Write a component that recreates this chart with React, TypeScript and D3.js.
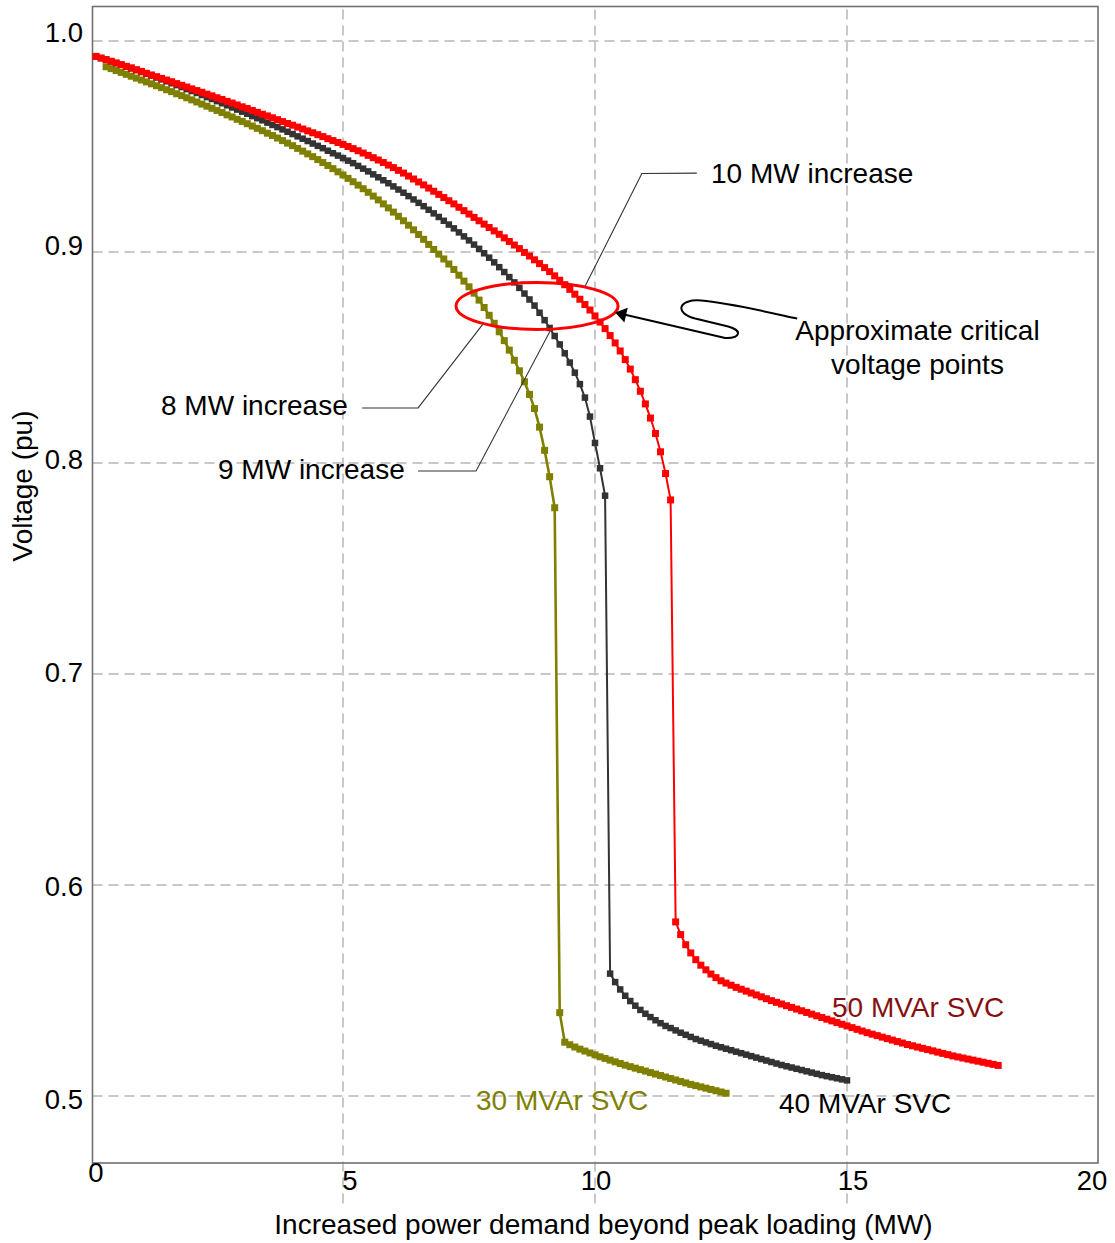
import React from "react";
import * as d3 from "d3";

// Load increase samples are taken every 0.1 MW (beyond peak loading)
const LOAD_STEP = 0.1;

const X_TICKS = [0, 5, 10, 15, 20];
const Y_TICKS = [1.0, 0.9, 0.8, 0.7, 0.6, 0.5];

const SERIES_NAMES = ["30 MVAr SVC", "40 MVAr SVC", "50 MVAr SVC"];

// 30 MVAr SVC, first sample at 0.3 MW
const SVC30_START = 0.3;
const SVC30_V = [
  0.9878, 0.9869, 0.9860, 0.9851, 0.9842, 0.9833, 0.9824, 0.9815,
  0.9806, 0.9797, 0.9788, 0.9779, 0.9769, 0.9760, 0.9750, 0.9741, 0.9731, 0.9721,
  0.9711, 0.9701, 0.9691, 0.9681, 0.9671, 0.9661, 0.9650, 0.9640, 0.9629, 0.9619,
  0.9608, 0.9597, 0.9586, 0.9575, 0.9563, 0.9552, 0.9540, 0.9528, 0.9516, 0.9504,
  0.9491, 0.9478, 0.9465, 0.9452, 0.9438, 0.9424, 0.9410, 0.9395, 0.9380, 0.9365,
  0.9349, 0.9333, 0.9317, 0.9300, 0.9283, 0.9265, 0.9247, 0.9228, 0.9209, 0.9189,
  0.9169, 0.9148, 0.9127, 0.9105, 0.9083, 0.9060, 0.9036, 0.9012, 0.8990, 0.8967,
  0.8943, 0.8917, 0.8890, 0.8862, 0.8835, 0.8805, 0.8772, 0.8737, 0.8700, 0.8662,
  0.8622, 0.8580, 0.8535, 0.8487, 0.8437, 0.8385, 0.8325, 0.8258, 0.8170, 0.8060,
  0.7935, 0.7788, 0.5395, 0.5255, 0.5243, 0.5232, 0.5222, 0.5213, 0.5204, 0.5195,
  0.5186, 0.5178, 0.5170, 0.5162, 0.5154, 0.5146, 0.5139, 0.5132, 0.5125, 0.5118,
  0.5111, 0.5104, 0.5097, 0.5090, 0.5083, 0.5076, 0.5069, 0.5062, 0.5055, 0.5049,
  0.5043, 0.5037, 0.5031, 0.5025, 0.5019, 0.5013,
];

// 40 MVAr SVC, first sample at 0.1 MW
const SVC40_START = 0.1;
const SVC40_V = [
  0.9927, 0.9919, 0.9911, 0.9903, 0.9895, 0.9887, 0.9878, 0.9870, 0.9862, 0.9853,
  0.9844, 0.9836, 0.9827, 0.9818, 0.9809, 0.9800, 0.9791, 0.9782, 0.9772, 0.9763,
  0.9754, 0.9744, 0.9734, 0.9725, 0.9715, 0.9705, 0.9695, 0.9685, 0.9675, 0.9665,
  0.9655, 0.9644, 0.9634, 0.9624, 0.9613, 0.9602, 0.9592, 0.9581, 0.9570, 0.9559,
  0.9548, 0.9537, 0.9526, 0.9514, 0.9503, 0.9492, 0.9480, 0.9468, 0.9457, 0.9445,
  0.9433, 0.9421, 0.9408, 0.9395, 0.9382, 0.9368, 0.9354, 0.9340, 0.9326, 0.9311,
  0.9296, 0.9281, 0.9265, 0.9249, 0.9233, 0.9217, 0.9200, 0.9183, 0.9166, 0.9148,
  0.9130, 0.9112, 0.9093, 0.9074, 0.9055, 0.9035, 0.9015, 0.8994, 0.8973, 0.8951,
  0.8928, 0.8905, 0.8881, 0.8856, 0.8830, 0.8803, 0.8775, 0.8746, 0.8712, 0.8677,
  0.8640, 0.8602, 0.8562, 0.8520, 0.8476, 0.8428, 0.8374, 0.8310, 0.8220, 0.8095,
  0.7975, 0.7845, 0.5580, 0.5540, 0.5505, 0.5475, 0.5450, 0.5428, 0.5408, 0.5390,
  0.5374, 0.5359, 0.5345, 0.5332, 0.5322, 0.5311, 0.5300, 0.5290, 0.5280, 0.5270,
  0.5262, 0.5254, 0.5246, 0.5238, 0.5231, 0.5224, 0.5217, 0.5210, 0.5203, 0.5196,
  0.5189, 0.5182, 0.5175, 0.5168, 0.5161, 0.5154, 0.5147, 0.5141, 0.5135, 0.5129,
  0.5123, 0.5117, 0.5111, 0.5105, 0.5099, 0.5094, 0.5089, 0.5084, 0.5079, 0.5074,
];

// 50 MVAr SVC, first sample at 0.1 MW
const SVC50_START = 0.1;
const SVC50_V = [
  0.9927, 0.9919, 0.9912, 0.9904, 0.9896, 0.9888, 0.9880, 0.9873, 0.9864, 0.9856,
  0.9847, 0.9839, 0.9831, 0.9823, 0.9815, 0.9807, 0.9798, 0.9790, 0.9782, 0.9773,
  0.9765, 0.9757, 0.9748, 0.9740, 0.9731, 0.9723, 0.9714, 0.9706, 0.9697, 0.9688,
  0.9680, 0.9671, 0.9662, 0.9653, 0.9645, 0.9636, 0.9627, 0.9618, 0.9609, 0.9601,
  0.9592, 0.9583, 0.9574, 0.9565, 0.9556, 0.9547, 0.9537, 0.9528, 0.9519, 0.9510,
  0.9500, 0.9490, 0.9480, 0.9469, 0.9458, 0.9447, 0.9436, 0.9424, 0.9412, 0.9400,
  0.9387, 0.9374, 0.9360, 0.9346, 0.9332, 0.9318, 0.9303, 0.9288, 0.9273, 0.9258,
  0.9243, 0.9228, 0.9212, 0.9196, 0.9180, 0.9164, 0.9148, 0.9132, 0.9116, 0.9100,
  0.9084, 0.9067, 0.9050, 0.9033, 0.9016, 0.8998, 0.8981, 0.8963, 0.8945, 0.8926,
  0.8907, 0.8887, 0.8866, 0.8845, 0.8823, 0.8800, 0.8776, 0.8751, 0.8725, 0.8697,
  0.8668, 0.8637, 0.8604, 0.8569, 0.8531, 0.8490, 0.8445, 0.8395, 0.8340, 0.8280,
  0.8213, 0.8140, 0.8053, 0.7950, 0.7825, 0.5825, 0.5765, 0.5717, 0.5678, 0.5646,
  0.5620, 0.5598, 0.5578, 0.5561, 0.5546, 0.5535, 0.5525, 0.5515, 0.5506, 0.5497,
  0.5488, 0.5479, 0.5470, 0.5461, 0.5452, 0.5444, 0.5436, 0.5428, 0.5420, 0.5412,
  0.5404, 0.5396, 0.5388, 0.5380, 0.5372, 0.5364, 0.5356, 0.5348, 0.5340, 0.5332,
  0.5324, 0.5316, 0.5308, 0.5300, 0.5293, 0.5286, 0.5279, 0.5272, 0.5265, 0.5258,
  0.5251, 0.5244, 0.5238, 0.5232, 0.5226, 0.5220, 0.5214, 0.5208, 0.5202, 0.5196,
  0.5190, 0.5185, 0.5180, 0.5175, 0.5170, 0.5165, 0.5160, 0.5155, 0.5150, 0.5145,
];

// Annotation anchors in data units [MW, pu]
const CRITICAL_ELLIPSE_CENTER = [8.85, 0.8744];
const ARROW_TIP = [10.4, 0.8713];
const LEADER_10MW = [[12.02, 0.9374], [10.93, 0.9372], [9.8, 0.8836]];
const LEADER_9MW = [[6.49, 0.7962], [7.64, 0.7962], [9.11, 0.8626]];
const LEADER_8MW = [[5.38, 0.8261], [6.49, 0.8261], [7.78, 0.8659]];

const W = 1115;
const H = 1243;
const FRAME = { left: 92.5, right: 1098, top: 6.5, bottom: 1163 };
const FONT = "'Liberation Sans', Arial, Helvetica, sans-serif";

const STYLES = [
  { color: "#808000", width: 2.6, marker: 7 },
  { color: "#333333", width: 2, marker: 6.5 },
  { color: "#ff0000", width: 2, marker: 7 },
];

type Pt = { x: number; v: number };
const toPoints = (start: number, vals: number[]): Pt[] =>
  vals.map((v, i) => ({ x: +(start + i * LOAD_STEP).toFixed(1), v }));

export default function App() {
  const x = d3.scaleLinear().domain([0, 20]).range([91, 1099]);
  const y = d3.scaleLinear().domain([0.5, 1.0]).range([1096, 41]);
  const yLabel = d3.scaleLinear().domain([0.5, 1.0]).range([1109, 42]);

  const series = [
    toPoints(SVC30_START, SVC30_V),
    toPoints(SVC40_START, SVC40_V),
    toPoints(SVC50_START, SVC50_V),
  ];

  const line = d3
    .line<Pt>()
    .x((d) => x(d.x))
    .y((d) => y(d.v));

  const leader = (pts: number[][]) =>
    d3.line<number[]>().x((d) => x(d[0])).y((d) => y(d[1]))(pts) || "";

  const xTickDx: Record<number, number> = { 0: 5, 5: 7, 10: 1, 15: 6, 20: -7 };

  const tipX = x(ARROW_TIP[0]);
  const tipY = y(ARROW_TIP[1]);

  return (
    <svg
      width={W}
      height={H}
      style={{ position: "absolute", left: 0, top: 0, background: "#fff" }}
      fontFamily={FONT}
    >
      <rect x={0} y={0} width={W} height={H} fill="#fff" />
      {/* grid */}
      {Y_TICKS.map((t) => (
        <line
          key={"gy" + t}
          x1={FRAME.left}
          x2={FRAME.right}
          y1={y(t)}
          y2={y(t)}
          stroke="#c8c8c8"
          strokeWidth={2}
          strokeDasharray="10 6"
        />
      ))}
      {X_TICKS.filter((t) => t > 0 && t < 20).map((t) => (
        <line
          key={"gx" + t}
          x1={x(t)}
          x2={x(t)}
          y1={FRAME.top + 3}
          y2={1207}
          stroke="#c8c8c8"
          strokeWidth={2}
          strokeDasharray="10 6"
        />
      ))}
      {/* frame */}
      <rect
        x={FRAME.left}
        y={FRAME.top}
        width={FRAME.right - FRAME.left}
        height={FRAME.bottom - FRAME.top}
        fill="none"
        stroke="#707070"
        strokeWidth={1.6}
      />

      {/* series */}
      {series.map((pts, si) => (
        <g key={"s" + si}>
          <path
            d={line(pts) || ""}
            fill="none"
            stroke={STYLES[si].color}
            strokeWidth={STYLES[si].width}
            strokeLinejoin="round"
          />
          {pts.map((p, i) => (
            <rect
              key={i}
              x={x(p.x) - STYLES[si].marker / 2}
              y={y(p.v) - STYLES[si].marker / 2}
              width={STYLES[si].marker}
              height={STYLES[si].marker}
              fill={STYLES[si].color}
            />
          ))}
        </g>
      ))}

      {/* leader lines */}
      {[LEADER_10MW, LEADER_9MW, LEADER_8MW].map((pts, i) => (
        <path key={"ld" + i} d={leader(pts)} fill="none" stroke="#333" strokeWidth={1.1} />
      ))}

      {/* critical ellipse */}
      <ellipse
        cx={x(CRITICAL_ELLIPSE_CENTER[0])}
        cy={y(CRITICAL_ELLIPSE_CENTER[1])}
        rx={81}
        ry={23.5}
        fill="none"
        stroke="#ff0000"
        strokeWidth={3}
      />

      {/* S-shaped arrow */}
      <g transform={`translate(${tipX},${tipY})`}>
        <path
          d="M182,6 C150,-1 112,-10 86,-12 C64,-14 58,0 80,6 L113,14 C127,17.5 126,26 110,25.5 L9,2"
          fill="none"
          stroke="#000"
          strokeWidth={2}
        />
        <polygon points="0,0 12.6,-4.8 9.2,10" fill="#000" />
      </g>

      {/* annotation texts */}
      <g fontSize={28} fill="#000">
        <text x={711} y={183}>10 MW increase</text>
        <text x={161} y={415}>8 MW increase</text>
        <text x={218} y={479}>9 MW increase</text>
        <text x={917.5} y={340} textAnchor="middle">Approximate critical</text>
        <text x={917.5} y={374} textAnchor="middle">voltage points</text>
      </g>

      {/* series labels */}
      <g fontSize={28}>
        <text x={832} y={1017} fill="#861010">{SERIES_NAMES[2]}</text>
        <text x={779} y={1113} fill="#000">{SERIES_NAMES[1]}</text>
        <text x={476} y={1110} fill="#808000">{SERIES_NAMES[0]}</text>
      </g>

      {/* tick labels */}
      <g fontSize={27.5} fill="#000">
        {Y_TICKS.map((t) => (
          <text key={"ty" + t} x={83} y={yLabel(t)} textAnchor="end">
            {t.toFixed(1)}
          </text>
        ))}
        {X_TICKS.map((t) => (
          <text
            key={"tx" + t}
            x={x(t) + xTickDx[t]}
            y={t === 0 ? 1182 : 1190}
            textAnchor="middle"
          >
            {t}
          </text>
        ))}
      </g>

      {/* axis titles */}
      <text x={603.5} y={1234} textAnchor="middle" fontSize={28} fill="#000">
        Increased power demand beyond peak loading (MW)
      </text>
      <text
        transform="translate(32,486) rotate(-90)"
        textAnchor="middle"
        fontSize={28}
        fill="#000"
      >
        Voltage (pu)
      </text>
    </svg>
  );
}
